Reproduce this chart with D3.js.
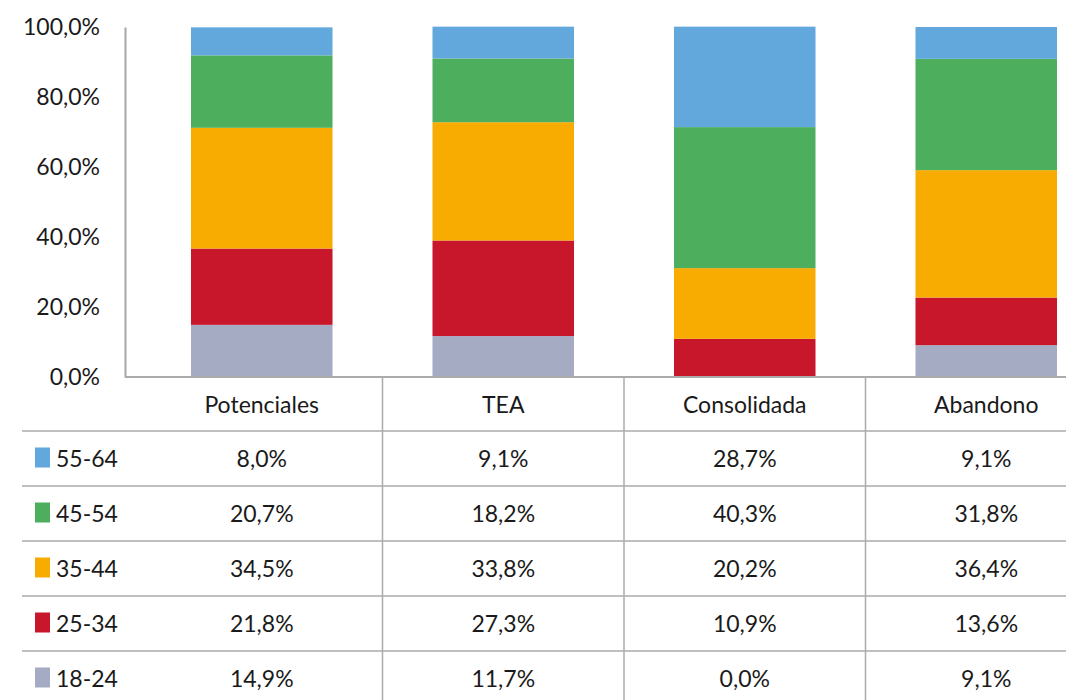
<!DOCTYPE html>
<html>
<head>
<meta charset="utf-8">
<script src="https://cdn.jsdelivr.net/npm/d3@7"></script>
<style>
  body { margin: 0; background: #fff; }
  text { font-family: Lato, "Noto Sans", sans-serif; fill: #1a1a1a; }
</style>
</head>
<body>
<div id="chart"></div>
<script>
// categories and age groups
var categories = ["Potenciales", "TEA", "Consolidada", "Abandono"];
var groups = ["18-24", "25-34", "35-44", "45-54", "55-64"];

// percentages per age group, one value per category
var v1824 = [14.9, 11.7, 0.0, 9.1];
var v2534 = [21.8, 27.3, 10.9, 13.6];
var v3544 = [34.5, 33.8, 20.2, 36.4];
var v4554 = [20.7, 18.2, 40.3, 31.8];
var v5564 = [8.0, 9.1, 28.7, 9.1];

var yTicks = [0, 20, 40, 60, 80, 100];

var colors = {
  "18-24": "#a5abc2",
  "25-34": "#c8172a",
  "35-44": "#f8ab00",
  "45-54": "#4daf5e",
  "55-64": "#62a8dc"
};

var seriesValues = {
  "18-24": v1824, "25-34": v2534, "35-44": v3544, "45-54": v4554, "55-64": v5564
};

// build rows for d3.stack
var rows = categories.map(function(c, i) {
  var r = { cat: c };
  groups.forEach(function(g) { r[g] = seriesValues[g][i]; });
  return r;
});

var width = 1066, height = 700;
var axisX = 125, plotTop = 27, plotBottom = 377;
var tableLeft = 22;
var rowH = 55;
var fontSize = "23px";

var locale = d3.formatLocale({ decimal: ",", thousands: ".", grouping: [3], currency: ["", "€"] });
var fmt = function(v) { return locale.format(".1f")(v) + "%"; };

var svg = d3.select("#chart").append("svg")
  .attr("width", width)
  .attr("height", height);

var x = d3.scaleBand()
  .domain(categories)
  .range([141, 1107])
  .paddingInner(0.414)
  .paddingOuter(0.207);

var y = d3.scaleLinear()
  .domain([0, 100])
  .range([plotBottom, plotTop]);

var stack = d3.stack().keys(groups);
var stacked = stack(rows);

// bars
svg.append("g").selectAll("g")
  .data(stacked)
  .enter()
  .append("g")
  .attr("fill", function(d) { return colors[d.key]; })
  .selectAll("rect")
  .data(function(d) { return d; })
  .enter()
  .append("rect")
  .attr("x", function(d) { return x(d.data.cat); })
  .attr("width", x.bandwidth())
  .attr("y", function(d) { return y(d[1]); })
  .attr("height", function(d) { return y(d[0]) - y(d[1]); });

// y axis
var leftAxis = d3.axisLeft(y)
  .tickValues(yTicks)
  .tickSize(0)
  .tickPadding(25)
  .tickFormat(fmt);

var yAxis = svg.append("g")
  .attr("transform", "translate(" + axisX + ",0)")
  .call(leftAxis);
yAxis.select(".domain").attr("stroke", "#a6a6a6").attr("stroke-width", 2);
yAxis.selectAll("text")
  .style("font-size", fontSize)
  .style("font-family", "Lato, 'Noto Sans', sans-serif")
  .attr("fill", "#1a1a1a");

// table / grid lines
var gridColor = "#ababab";
var lines = svg.append("g").attr("stroke", gridColor).attr("stroke-width", 1.5);

// bottom axis line
lines.append("line")
  .attr("x1", axisX).attr("x2", width)
  .attr("y1", plotBottom).attr("y2", plotBottom)
  .attr("stroke-width", 2);

// horizontal row lines
var rowTops = d3.range(5).map(function(i) { return 431 + i * rowH; });
lines.selectAll(".hline")
  .data(rowTops)
  .enter()
  .append("line")
  .attr("x1", tableLeft).attr("x2", width)
  .attr("y1", function(d) { return d; })
  .attr("y2", function(d) { return d; });

// vertical column separators (midpoints between bars)
var seps = categories.slice(1).map(function(c) {
  return x(c) - (x.step() - x.bandwidth()) / 2;
});
lines.selectAll(".vline")
  .data(seps)
  .enter()
  .append("line")
  .attr("x1", function(d) { return d; }).attr("x2", function(d) { return d; })
  .attr("y1", plotBottom).attr("y2", height);

// header labels
svg.append("g").selectAll("text")
  .data(categories)
  .enter()
  .append("text")
  .attr("x", function(d) { return x(d) + x.bandwidth() / 2; })
  .attr("y", 405)
  .attr("dy", "0.35em")
  .attr("text-anchor", "middle")
  .style("font-size", fontSize)
  .text(function(d) { return d; });

// table rows (top to bottom: oldest first)
var tableGroups = groups.slice().reverse();
var rowG = svg.append("g").selectAll("g")
  .data(tableGroups)
  .enter()
  .append("g")
  .attr("transform", function(d, i) { return "translate(0," + (rowTops[i] + rowH / 2) + ")"; });

rowG.append("rect")
  .attr("x", 35)
  .attr("y", -11)
  .attr("width", 15)
  .attr("height", 20)
  .attr("fill", function(d) { return colors[d]; });

rowG.append("text")
  .attr("x", 56)
  .attr("y", 0)
  .attr("dy", "0.35em")
  .style("font-size", fontSize)
  .text(function(d) { return d; });

rowG.selectAll(".val")
  .data(function(g) {
    return categories.map(function(c, i) { return { cat: c, v: seriesValues[g][i] }; });
  })
  .enter()
  .append("text")
  .attr("x", function(d) { return x(d.cat) + x.bandwidth() / 2; })
  .attr("y", 0)
  .attr("dy", "0.35em")
  .attr("text-anchor", "middle")
  .style("font-size", fontSize)
  .text(function(d) { return fmt(d.v); });
</script>
</body>
</html>
